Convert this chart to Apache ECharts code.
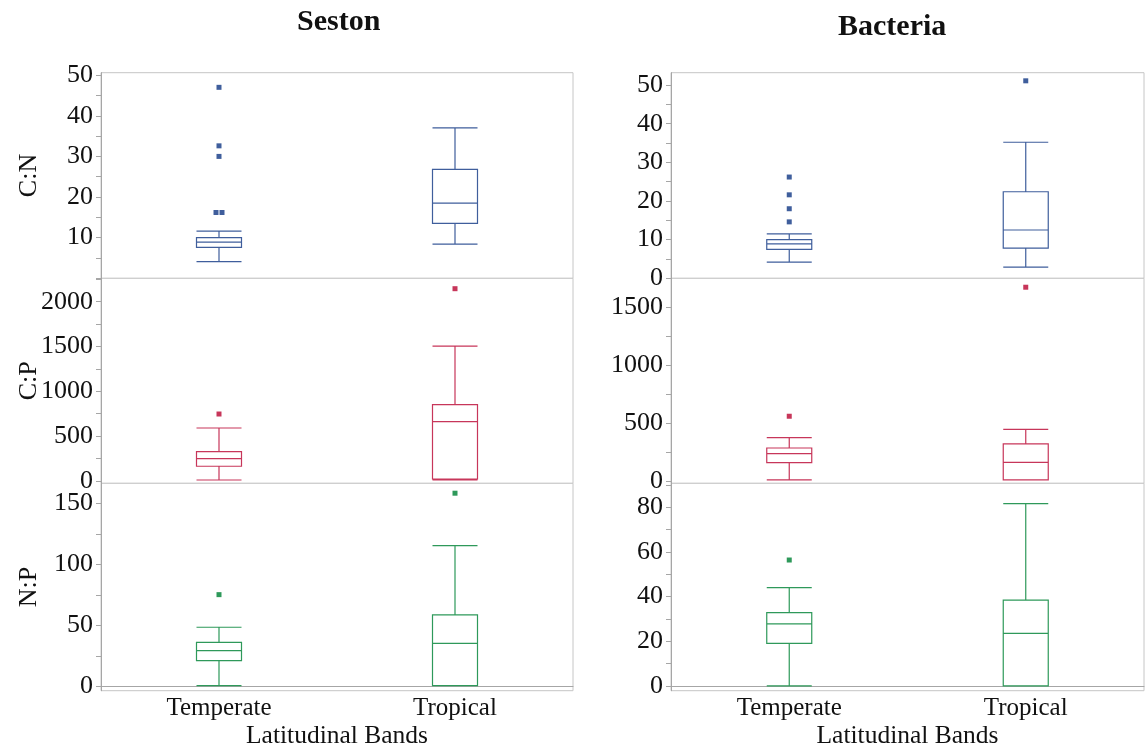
<!DOCTYPE html>
<html>
<head>
<meta charset="utf-8">
<script src="https://cdn.jsdelivr.net/npm/echarts@6/dist/echarts.min.js"></script>
<style>
  html, body { margin: 0; padding: 0; background: #fff; }
  #chart { width: 1146px; height: 752px; }
</style>
</head>
<body>
<div id="chart"></div>
<script>
const categories = ['Temperate', 'Tropical'];

// box values: [low whisker, Q1, median, Q3, high whisker]
const sestonCN = [[4.1, 7.6, 8.9, 10.0, 11.6], [8.4, 13.5, 18.5, 26.8, 37.0]];
const sestonCNOut = [[0, 16.2], [0, 16.2], [0, 30.0], [0, 32.6], [0, 47.0]];
const sestonCP = [[11, 164, 249, 327, 591], [11, 22, 662, 851, 1505]];
const sestonCPOut = [[0, 747], [1, 2145]];
const sestonNP = [[0.8, 21.3, 29.5, 36.3, 48.6], [0.8, 0.8, 35.5, 58.7, 115.4]];
const sestonNPOut = [[0, 75.3], [1, 158.3]];

const bactCN = [[4.2, 7.5, 8.9, 10.0, 11.5], [2.9, 7.8, 12.5, 22.4, 35.2]];
const bactCNOut = [[0, 14.6], [0, 18.0], [0, 21.6], [0, 26.2], [1, 51.1]];
const bactCP = [[9, 158, 236, 285, 374], [9, 9, 161, 320, 446]];
const bactCPOut = [[0, 559], [1, 1673]];
const bactNP = [[0, 19.0, 27.8, 32.8, 44.0], [0, 0, 23.5, 38.4, 81.7]];
const bactNPOut = [[0, 56.4]];

// tick labels and tick marks
const cnLabelsL = [10, 20, 30, 40, 50];
const cnTicksL = [0, 5, 10, 15, 20, 25, 30, 35, 40, 45, 50];
const cpLabelsL = [0, 500, 1000, 1500, 2000];
const cpTicksL = [0, 250, 500, 750, 1000, 1250, 1500, 1750, 2000, 2250];
const npLabelsL = [0, 50, 100, 150];
const npTicksL = [0, 25, 50, 75, 100, 125, 150];
const cnLabelsR = [0, 10, 20, 30, 40, 50];
const cnTicksR = [0, 5, 10, 15, 20, 25, 30, 35, 40, 45, 50];
const cpLabelsR = [0, 500, 1000, 1500];
const cpTicksR = [0, 250, 500, 750, 1000, 1250, 1500];
const npLabelsR = [0, 20, 40, 60, 80];
const npTicksR = [0, 10, 20, 30, 40, 50, 60, 70, 80, 90];

const panelTitles = ['Seston', 'Bacteria'];
const ratioNames = ['C:N', 'C:P', 'N:P'];
const xName = 'Latitudinal Bands';

const FONT = '"Liberation Serif", "Times New Roman", serif';
const BLUE = '#3f5e9c', RED = '#c7365a', GREEN = '#2e995a';

const cols = [{ left: 101, width: 472 }, { left: 671, width: 473 }];
const rows = [{ top: 72.7, height: 205.6 }, { top: 278.3, height: 205 }, { top: 483.3, height: 207.4 }];

const panels = [
  { col: 0, row: 0, box: sestonCN, out: sestonCNOut, min: 0, max: 50.6, labels: cnLabelsL, ticks: cnTicksL, color: BLUE },
  { col: 0, row: 1, box: sestonCP, out: sestonCPOut, min: -26, max: 2261, labels: cpLabelsL, ticks: cpTicksL, color: RED },
  { col: 0, row: 2, box: sestonNP, out: sestonNPOut, min: -3.3, max: 166.4, labels: npLabelsL, ticks: npTicksL, color: GREEN },
  { col: 1, row: 0, box: bactCN, out: bactCNOut, min: 0, max: 53.2, labels: cnLabelsR, ticks: cnTicksR, color: BLUE },
  { col: 1, row: 1, box: bactCP, out: bactCPOut, min: -20, max: 1750, labels: cpLabelsR, ticks: cpTicksR, color: RED },
  { col: 1, row: 2, box: bactNP, out: bactNPOut, min: -2.2, max: 90.8, labels: npLabelsR, ticks: npTicksR, color: GREEN }
];

// spread identical outliers a little sideways, as in the original plot
function outlierItems(list) {
  const seen = {};
  return list.map(p => {
    const k = p.join('_');
    seen[k] = (seen[k] || 0) + 1;
    const dup = list.filter(q => q.join('_') === k).length > 1;
    return dup ? { value: p, symbolOffset: [seen[k] === 1 ? -3 : 3, 0] } : { value: p };
  });
}

const grid = [], xAxis = [], yAxis = [], series = [];
panels.forEach((p, i) => {
  grid.push({
    left: cols[p.col].left, width: cols[p.col].width,
    top: rows[p.row].top, height: rows[p.row].height,
    show: true, borderColor: '#c6c6c6', borderWidth: 1, backgroundColor: '#fff'
  });
  const bottom = p.row === 2;
  xAxis.push({
    type: 'category', gridIndex: i, data: categories,
    axisLine: { show: bottom, lineStyle: { color: '#a6a6a6' } },
    axisTick: { show: false },
    axisLabel: { show: bottom, fontFamily: FONT, fontSize: 25, color: '#111', margin: 5 },
    name: bottom ? xName : '', nameLocation: 'middle', nameGap: 33,
    nameTextStyle: { fontFamily: FONT, fontSize: 25.5, color: '#111' },
    splitLine: { show: false }
  });
  yAxis.push({
    type: 'value', gridIndex: i, min: p.min, max: p.max,
    axisLine: { show: true, lineStyle: { color: '#a6a6a6' } },
    axisTick: { show: true, customValues: p.ticks, length: 5, lineStyle: { color: '#a6a6a6' } },
    axisLabel: {
      customValues: p.labels, formatter: v => String(v),
      fontFamily: FONT, fontSize: 26, color: '#111', margin: 8
    },
    splitLine: { show: false },
    name: p.col === 0 ? ratioNames[p.row] : '',
    nameLocation: 'middle', nameRotate: 90, nameGap: 59, nameMoveOverlap: false,
    nameTextStyle: { fontFamily: FONT, fontSize: 26, color: '#111' }
  });
  series.push({
    type: 'boxplot', xAxisIndex: i, yAxisIndex: i,
    data: p.box, boxWidth: [45, 45],
    itemStyle: { color: '#fff', borderColor: p.color, borderWidth: 1.2 },
    emphasis: { disabled: true }, silent: true
  });
  series.push({
    type: 'scatter', xAxisIndex: i, yAxisIndex: i,
    data: outlierItems(p.out), symbol: 'rect', symbolSize: 5,
    itemStyle: { color: p.color, opacity: 1 }, silent: true
  });
});

const chart = echarts.init(document.getElementById('chart'), null, { renderer: 'canvas' });
chart.setOption({
  animation: false,
  backgroundColor: '#fff',
  title: [
    { text: panelTitles[0], left: 292, top: 2, textStyle: { fontFamily: FONT, fontSize: 30, fontWeight: 'bold', color: '#111' } },
    { text: panelTitles[1], left: 833, top: 7, textStyle: { fontFamily: FONT, fontSize: 30, fontWeight: 'bold', color: '#111' } }
  ],
  grid, xAxis, yAxis, series
});
</script>
</body>
</html>
